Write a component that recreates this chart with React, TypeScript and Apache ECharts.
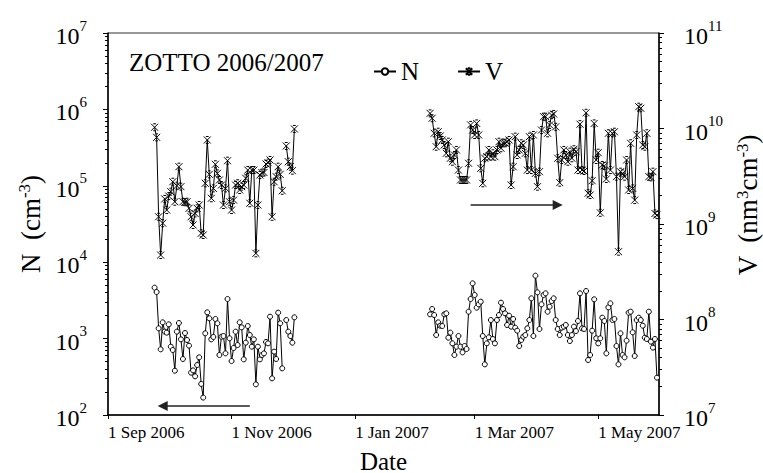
import React, { useEffect, useRef } from 'react';
import * as echarts from 'echarts';

// Daily samples at ZOTTO: first campaign starts 24 Sep 2006, second 7 Feb 2007.
const autumnStart = '2006-09-24';
const springStart = '2007-02-07';

// N in cm^-3 (left axis)
const autumnN: (number | null)[] = [
  4640, 4070, 1362, 724, 1633, 1233, 1196, 1537, 784, 709,
  380, 1233, 1600, 978, 541, 1184, 959, 808, 358, 384,
  321, 451, 569, 255, 169, 1172, 2207, 1842, 978, 1050,
  1806, 1585, 610, 1060, 1081, 641, 3298, 1009, 509, 753,
  1233, 824, 1633, 1404, 535, 885, 1462, 1114, 784, 978,
  252, 784, 535, 610, 641, 903, 867, 1937, 302, 675,
  541, 2185, 1585, 408, null, 1751, 1233, 1081, 885, 1898,
];

// V in nm^3 cm^-3 (right axis)
const autumnV: (number | null)[] = [
  1.03e10, 8.08e9, 1.19e9, 4.73e8, 1.02e9, 1.83e9, 1.40e9, 1.96e9, 2.18e9, 2.77e9,
  1.71e9, 2.52e9, 3.98e9, 2.46e9, 1.71e9, 1.69e9, 1.71e9, 1.46e9, 1.19e9, 9.77e8,
  1.29e9, 1.46e9, 1.58e9, 7.98e8, 7.67e8, 2.67e9, 7.58e9, 3.31e9, 1.86e9, 2.36e9,
  4.22e9, 3.39e9, 2.89e9, 2.56e9, 1.58e9, 2.36e9, 4.60e9, 1.71e9, 1.40e9, 1.78e9,
  2.56e9, 2.67e9, 2.27e9, 2.46e9, 2.56e9, 3.01e9, 3.67e9, 1.65e9, 3.67e9, 3.67e9,
  4.93e8, 1.58e9, 3.26e9, 3.45e9, 3.46e9, 4.25e9, 4.39e9, 4.68e9, 1.19e9, 2.77e9,
  3.13e9, 3.98e9, 3.31e9, 2.23e9, null, 6.56e9, 4.49e9, 3.98e9, 3.62e9, 9.89e9,
];

const springN: (number | null)[] = [
  2078, 2440, 2036, 1114, 1633, 1476, 1462, 2078, 2142, 1028,
  1196, 867, 610, 784, 1081, 784, 661, 800, 731, 2251,
  3298, 5288, 3722, 2541, 2811, 3043, 1081, 460, 867, 1039,
  1751, 988, 867, 1751, 2036, 2952, 2440, 2142, 1507, 1995,
  1433, 1806, 1390, 1270, 800, 959, 1060, 1114, 1362, 1751,
  3365, 1081, 6665, 4033, 1336, 2811, 3722, 3914, 2251, 2618,
  3105, 3365, 1751, 1336, 1114, 1390, 1433, 1507, 1114, 930,
  1114, 1433, 1257, 1700, 3914, 1362, 1336, 4198, 525, 610,
  1270, 3266, 1009, 867, 1009, 1879, 1700, 641, 2566, 2894,
  1751, 1806, 800, 460, 1172, 610, 569, 940, 2185, 2251,
  1208, 592, 1751, 1879, 1751, 1476, 1028, 988, 2251, 912,
  761, 988, 308,
];

const springV: (number | null)[] = [
  1.44e10, 1.28e10, 8.91e9, 6.45e9, 9.25e9, 8.35e9, 7.58e9, 6.72e9, 5.50e9, 7.27e9,
  4.88e9, 4.49e9, 5.28e9, 5.96e9, 3.67e9, 2.89e9, 2.89e9, 2.89e9, 2.89e9, 4.32e9,
  1.09e10, 9.64e9, 8.55e9, 1.13e10, 8.55e9, 3.83e9, 2.67e9, 4.88e9, 5.07e9, 5.96e9,
  5.07e9, 5.50e9, 5.07e9, 5.96e9, 7.27e9, 6.21e9, 7.00e9, 7.00e9, 7.27e9, 7.58e9,
  2.56e9, 3.98e9, 8.21e9, 5.28e9, 5.96e9, 7.00e9, 6.72e9, 5.50e9, 3.67e9, 8.21e9,
  3.67e9, 8.55e9, 3.39e9, 2.46e9, 3.53e9, 9.64e9, 1.33e10, 1.33e10, 8.91e9, 1.09e10,
  1.38e10, 1.42e10, 1.04e10, 4.88e9, 2.71e9, 4.68e9, 5.96e9, 5.28e9, 4.49e9, 5.72e9,
  4.88e9, 6.06e9, 5.72e9, 3.67e9, 1.11e10, 3.67e9, 3.59e9, 1.46e10, 2.10e9, 2.01e9,
  2.84e9, 1.13e10, 4.68e9, 5.58e9, 1.31e9, 4.15e9, 4.05e9, 2.96e9, 8.91e9, 3.67e9,
  8.91e9, 9.25e9, 3.13e9, 5.13e8, 3.53e9, 3.39e9, 3.13e9, 4.68e9, 2.27e9, 7.00e9,
  2.36e9, 1.78e9, 8.55e9, 1.69e10, 1.63e10, 6.72e9, 6.45e9, 8.91e9, 3.13e9, 3.08e9,
  3.53e9, 1.29e9, 1.24e9,
];

// Date axis
const axisStart = '2006-09-01';
const axisEnd = '2007-05-31';
const dateTicks = ['2006-09-01', '2006-11-01', '2007-01-01', '2007-03-01', '2007-05-01'];
const monthNames = ['Jan', 'Feb', 'Mar', 'Apr', 'May', 'Jun', 'Jul', 'Aug', 'Sep', 'Oct', 'Nov', 'Dec'];

// Log axes
const nRange = [1e2, 1e7];
const vRange = [1e7, 1e11];

// Arrow annotations pointing each series to its axis
const nArrow = { from: '2006-11-10', to: '2006-09-28', level: 131 };
const vArrow = { from: '2007-02-27', to: '2007-04-11', level: 1.58e9 };

const FONT = "'Liberation Serif', 'Times New Roman', Times, serif";
const INK = '#000';

function stamp(date: string, addDays = 0): number {
  const [y, m, d] = date.split('-').map(Number);
  return Date.UTC(y, m - 1, d + addDays);
}

function daily(start: string, values: (number | null)[]) {
  return values.map((v, i) => [stamp(start, i), v == null ? '-' : v]);
}

function joined(aStart: string, a: (number | null)[], bStart: string, b: (number | null)[]) {
  return [...daily(aStart, a), [stamp(aStart, a.length), '-'], ...daily(bStart, b)];
}

function minorTicks(lo: number, hi: number): number[] {
  const out: number[] = [];
  for (let e = Math.round(Math.log10(lo)); e < Math.round(Math.log10(hi)); e++) {
    for (let k = 2; k <= 9; k++) out.push(k * Math.pow(10, e));
  }
  return out;
}

function formatDate(v: number): string {
  const d = new Date(v);
  return `${d.getUTCDate()} ${monthNames[d.getUTCMonth()]} ${d.getUTCFullYear()}`;
}

const powRich = {
  b: { fontFamily: FONT, fontSize: 24, color: INK, lineHeight: 30, verticalAlign: 'bottom' },
  s: { fontFamily: FONT, fontSize: 15, color: INK, lineHeight: 30, verticalAlign: 'top' },
};

const powLabel = (v: number) => `{b|10}{s|${Math.round(Math.log10(v))}}`;

const nameRich = {
  a: { fontFamily: FONT, fontSize: 27, color: INK, lineHeight: 28, verticalAlign: 'bottom' },
  s: { fontFamily: FONT, fontSize: 17, color: INK, lineHeight: 28, verticalAlign: 'top' },
};

const axisLine = { show: true, lineStyle: { color: INK, width: 1.5 } };

const arrowLine = (a: { from: string; to: string; level: number }) => ({
  silent: true,
  symbol: ['none', 'triangle'],
  symbolSize: 10,
  label: { show: false },
  lineStyle: { color: '#222', width: 1.5, type: 'solid' },
  itemStyle: { color: '#111' },
  data: [[
    { coord: [stamp(a.from), a.level] },
    { coord: [stamp(a.to), a.level] },
  ]],
});

export default function App() {
  const ref = useRef<HTMLDivElement>(null);

  useEffect(() => {
    document.body.style.margin = '0';
    if (!ref.current) return;
    const chart = echarts.init(ref.current, undefined, { renderer: 'svg' });
    const xTicks = dateTicks.map((d) => stamp(d));

    const option: any = {
      animation: false,
      backgroundColor: '#fff',
      title: {
        text: 'ZOTTO 2006/2007',
        left: 124,
        top: 45,
        textStyle: { fontFamily: FONT, fontSize: 25, fontWeight: 'normal', color: INK },
      },
      legend: {
        data: ['N', 'V'],
        left: 368,
        top: 54,
        itemWidth: 22,
        itemHeight: 8,
        itemGap: 38,
        textStyle: { fontFamily: FONT, fontSize: 25, color: INK },
      },
      grid: {
        left: 108,
        right: 104,
        top: 33,
        bottom: 58,
        outerBoundsMode: 'none',
        show: true,
        borderColor: '#333',
        borderWidth: 1,
      },
      xAxis: {
        type: 'value',
        min: stamp(axisStart),
        max: stamp(axisEnd),
        axisLine,
        splitLine: { show: false },
        axisTick: { customValues: xTicks, length: 4, lineStyle: { color: INK } },
        axisLabel: {
          customValues: xTicks,
          formatter: formatDate,
          fontFamily: FONT,
          fontSize: 17,
          color: INK,
          align: 'left',
          margin: 9,
        },
        name: 'Date',
        nameLocation: 'middle',
        nameGap: 35,
        nameTextStyle: { fontFamily: FONT, fontSize: 25, lineHeight: 22, color: INK },
      },
      yAxis: [
        {
          type: 'log',
          logBase: 10,
          min: nRange[0],
          max: nRange[1],
          position: 'left',
          axisLine,
          splitLine: { show: false },
          axisTick: { length: 5, lineStyle: { color: INK } },
          axisLabel: { formatter: powLabel, rich: powRich, margin: 21 },
          name: '{a|N  (cm}{s|-3}{a|)}',
          nameLocation: 'middle',
          nameRotate: 90,
          nameGap: 64,
          nameTextStyle: { rich: nameRich },
        },
        {
          type: 'log',
          logBase: 10,
          min: vRange[0],
          max: vRange[1],
          position: 'right',
          axisLine,
          splitLine: { show: false },
          axisTick: { length: 5, lineStyle: { color: INK } },
          axisLabel: { formatter: powLabel, rich: powRich, margin: 25 },
          name: '{a|V  (nm}{s|3}{a|cm}{s|-3}{a|)}',
          nameLocation: 'middle',
          nameRotate: 90,
          nameGap: 55,
          nameTextStyle: { rich: nameRich, padding: [0, 0, 0, 38] },
        },
        {
          type: 'log',
          logBase: 10,
          min: nRange[0],
          max: nRange[1],
          position: 'left',
          axisLine: { show: false },
          splitLine: { show: false },
          axisLabel: { show: false },
          axisTick: { customValues: minorTicks(nRange[0], nRange[1]), length: 3, lineStyle: { color: INK } },
        },
        {
          type: 'log',
          logBase: 10,
          min: vRange[0],
          max: vRange[1],
          position: 'right',
          axisLine: { show: false },
          splitLine: { show: false },
          axisLabel: { show: false },
          axisTick: { customValues: minorTicks(vRange[0], vRange[1]), length: 3, lineStyle: { color: INK } },
        },
      ],
      series: [
        {
          name: 'N',
          type: 'line',
          yAxisIndex: 0,
          data: joined(autumnStart, autumnN, springStart, springN),
          connectNulls: false,
          symbol: 'circle',
          symbolSize: 5,
          showAllSymbol: true,
          lineStyle: { color: INK, width: 1 },
          itemStyle: { color: '#fff', borderColor: INK, borderWidth: 1 },
          markLine: arrowLine(nArrow),
        },
        {
          name: 'V',
          type: 'line',
          yAxisIndex: 1,
          data: joined(autumnStart, autumnV, springStart, springV),
          connectNulls: false,
          symbol: 'path://M0,0L10,10M10,0L0,10M3,0L7,0M3,10L7,10',
          symbolSize: 7,
          showAllSymbol: true,
          lineStyle: { color: INK, width: 1 },
          itemStyle: { color: INK, borderColor: INK, borderWidth: 1 },
          markLine: arrowLine(vArrow),
        },
      ],
    };

    chart.setOption(option);
    return () => chart.dispose();
  }, []);

  return <div ref={ref} style={{ width: 763, height: 473 }} />;
}
